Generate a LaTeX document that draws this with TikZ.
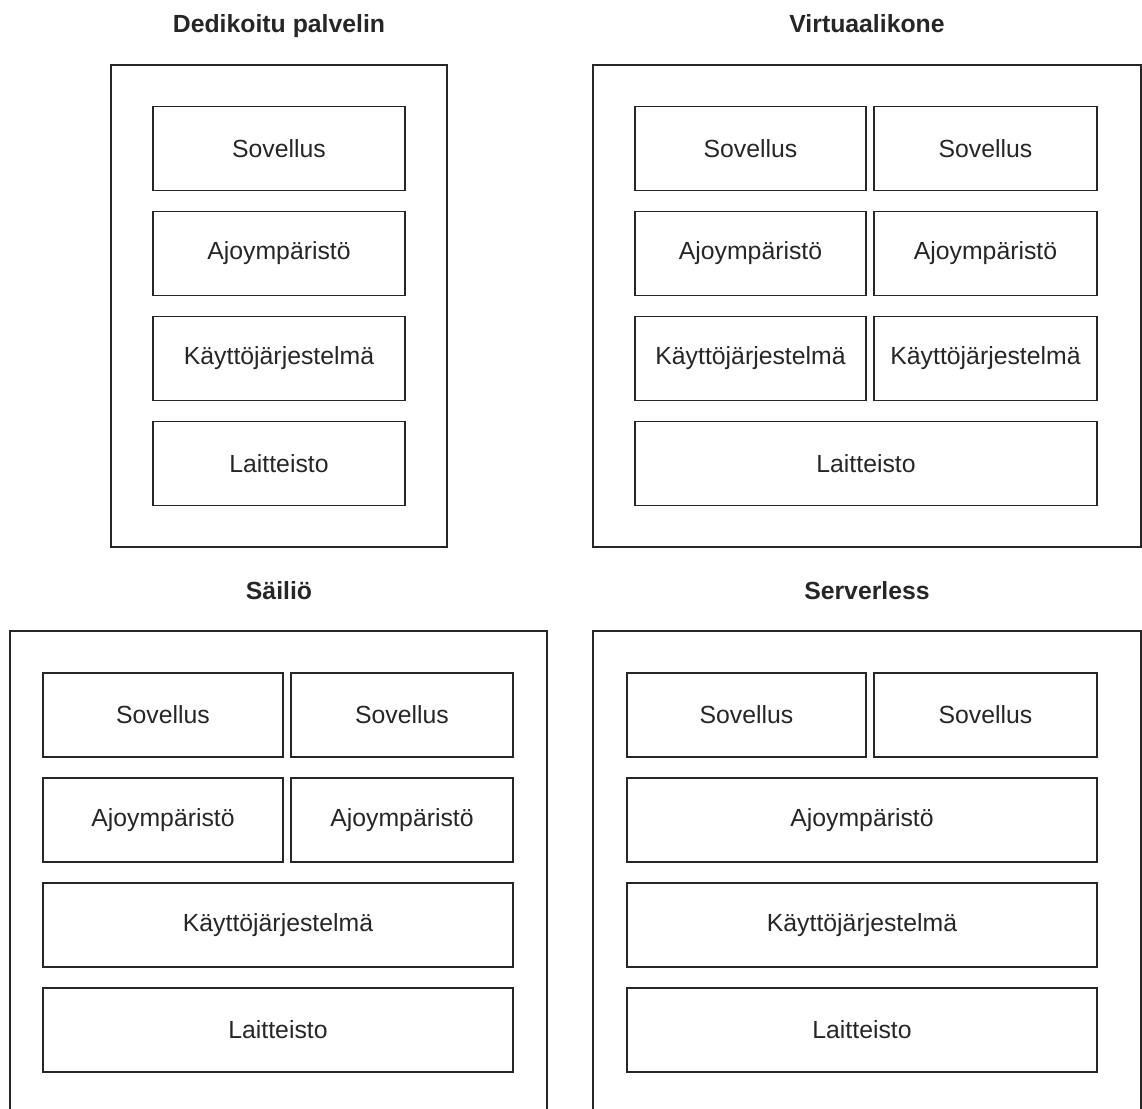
\documentclass[tikz,border=0pt]{standalone}
\usepackage{fontspec}
\setmainfont{Liberation Sans}
\begin{document}
\begin{tikzpicture}[x=1pt,y=-1pt,
  box/.style={draw=black!85,line width=1.8pt,rectangle,inner sep=0pt,outer sep=0pt,
    minimum height=84pt,text=black!85,font=\fontsize{24.8}{30}\selectfont},
  panel/.style={draw=black!85,line width=1.8pt,rectangle,inner sep=0pt,outer sep=0pt},
  ttl/.style={text=black!85,inner sep=0pt,anchor=base,font=\bfseries\fontsize{24.8}{30}\selectfont}]
\useasboundingbox (0,0) rectangle (1142,1108);
\clip (0,0) rectangle (1142,1108);
% titles
\node[ttl] (t1) at (279,33) {Dedikoitu palvelin};
\node[ttl] (t2) at (867,33) {Virtuaalikone};
\node[ttl] (t3) at (279,599) {Säiliö};
\node[ttl] (t4) at (867,599) {Serverless};
% outer panels
\node[panel,minimum width=336pt,minimum height=482pt] (p1) at (279,306) {};
\node[panel,minimum width=548pt,minimum height=482pt] (p2) at (867,306) {};
\node[panel,minimum width=537pt,minimum height=520pt] (p3) at (278.5,891) {};
\node[panel,minimum width=548pt,minimum height=520pt] (p4) at (867,891) {};
% Dedikoitu palvelin
\node[box,minimum width=252pt] (a1) at (279,148.5) {Sovellus};
\node[box,minimum width=252pt] (a2) at (279,253.5) {Ajoympäristö};
\node[box,minimum width=252pt] (a3) at (279,358.5) {Käyttöjärjestelmä};
\node[box,minimum width=252pt] (a4) at (279,463.5) {Laitteisto};
% Virtuaalikone
\node[box,minimum width=231pt] (b1) at (750.5,148.5) {Sovellus};
\node[box,minimum width=223pt] (b2) at (985.5,148.5) {Sovellus};
\node[box,minimum width=231pt] (b3) at (750.5,253.5) {Ajoympäristö};
\node[box,minimum width=223pt] (b4) at (985.5,253.5) {Ajoympäristö};
\node[box,minimum width=231pt] (b5) at (750.5,358.5) {Käyttöjärjestelmä};
\node[box,minimum width=223pt] (b6) at (985.5,358.5) {Käyttöjärjestelmä};
\node[box,minimum width=462pt] (b7) at (866,463.5) {Laitteisto};
% Säiliö
\node[box,minimum width=240pt] (c1) at (163,715) {Sovellus};
\node[box,minimum width=222pt] (c2) at (402,715) {Sovellus};
\node[box,minimum width=240pt] (c3) at (163,820) {Ajoympäristö};
\node[box,minimum width=222pt] (c4) at (402,820) {Ajoympäristö};
\node[box,minimum width=470pt] (c5) at (278,925) {Käyttöjärjestelmä};
\node[box,minimum width=470pt] (c6) at (278,1030) {Laitteisto};
% Serverless
\node[box,minimum width=239pt] (d1) at (746.5,715) {Sovellus};
\node[box,minimum width=223pt] (d2) at (985.5,715) {Sovellus};
\node[box,minimum width=470pt] (d3) at (862,820) {Ajoympäristö};
\node[box,minimum width=470pt] (d4) at (862,925) {Käyttöjärjestelmä};
\node[box,minimum width=470pt] (d5) at (862,1030) {Laitteisto};
\end{tikzpicture}
\end{document}
